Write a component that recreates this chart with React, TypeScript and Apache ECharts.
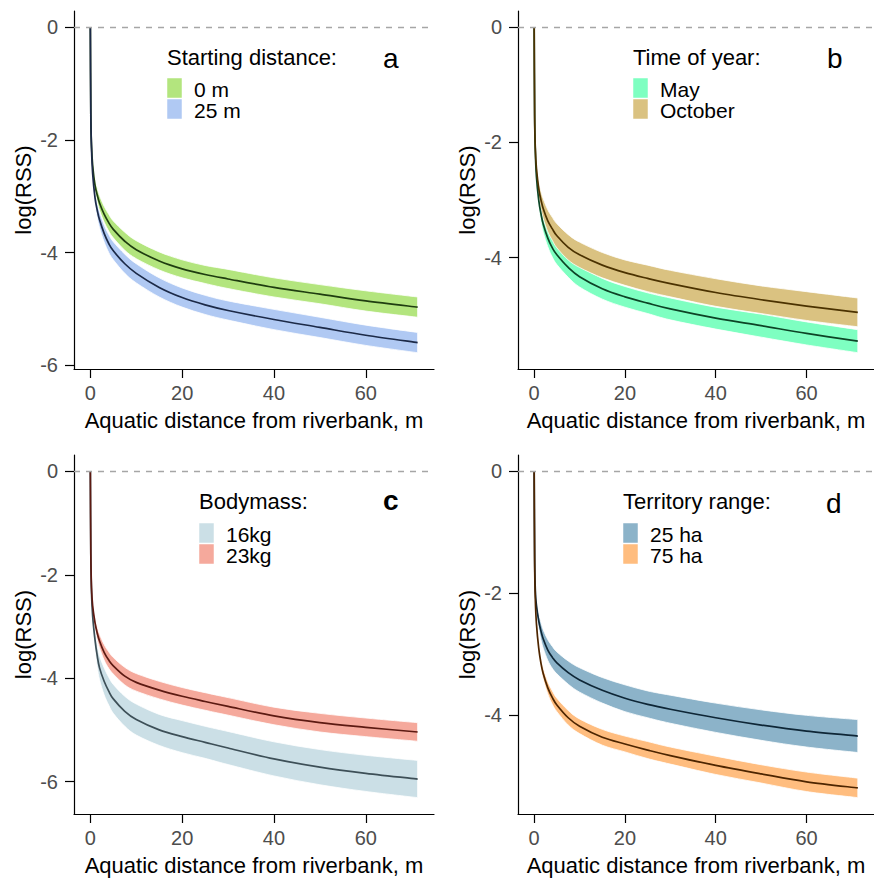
import React, { useEffect, useRef } from "react";
import * as echarts from "echarts";

// Aquatic distance from riverbank (m) at which values were read
const dist = [0, 0.1, 0.25, 0.5, 1, 1.5, 2, 3, 4, 5, 7.5, 10, 15, 20, 25, 30, 40, 50, 60, 71.3];

// Panel a: Starting distance
const a0Mid = [0, -1.55, -2.1, -2.45, -2.8, -2.98, -3.12, -3.32, -3.47, -3.59, -3.8, -3.95, -4.15, -4.29, -4.39, -4.47, -4.62, -4.74, -4.86, -4.97];
const a0Hi = [0, -1.53, -2.06, -2.38, -2.7, -2.86, -2.99, -3.18, -3.32, -3.44, -3.64, -3.79, -3.99, -4.13, -4.23, -4.3, -4.45, -4.57, -4.68, -4.79];
const a0Lo = [0, -1.57, -2.14, -2.52, -2.9, -3.1, -3.25, -3.46, -3.62, -3.74, -3.96, -4.11, -4.31, -4.45, -4.55, -4.64, -4.79, -4.91, -5.04, -5.15];
const a25Mid = [0, -1.55, -2.15, -2.6, -3.02, -3.25, -3.42, -3.66, -3.84, -3.97, -4.2, -4.37, -4.62, -4.8, -4.93, -5.03, -5.19, -5.33, -5.47, -5.6];
const a25Hi = [0, -1.53, -2.1, -2.52, -2.91, -3.12, -3.28, -3.51, -3.68, -3.81, -4.03, -4.2, -4.45, -4.63, -4.76, -4.86, -5.01, -5.15, -5.29, -5.42];
const a25Lo = [0, -1.57, -2.2, -2.68, -3.13, -3.38, -3.56, -3.81, -4.0, -4.13, -4.37, -4.54, -4.79, -4.97, -5.1, -5.2, -5.37, -5.51, -5.65, -5.78];

// Panel b: Time of year
const bMayMid = [0, -1.55, -2.15, -2.6, -3.0, -3.24, -3.42, -3.66, -3.83, -3.95, -4.17, -4.33, -4.54, -4.68, -4.79, -4.89, -5.05, -5.18, -5.315, -5.45];
const bMayHi = [0, -1.53, -2.1, -2.52, -2.89, -3.11, -3.28, -3.51, -3.67, -3.78, -4.0, -4.15, -4.36, -4.5, -4.61, -4.7, -4.86, -4.98, -5.115, -5.25];
const bMayLo = [0, -1.57, -2.2, -2.68, -3.11, -3.37, -3.56, -3.81, -3.99, -4.12, -4.34, -4.51, -4.72, -4.86, -4.97, -5.08, -5.24, -5.38, -5.515, -5.65];
const bOctMid = [0, -1.5, -2.1, -2.45, -2.8, -3.0, -3.15, -3.36, -3.5, -3.62, -3.82, -3.95, -4.13, -4.26, -4.36, -4.45, -4.605, -4.73, -4.84, -4.95];
const bOctHi = [0, -1.47, -2.04, -2.36, -2.67, -2.85, -2.98, -3.17, -3.3, -3.41, -3.6, -3.73, -3.91, -4.04, -4.13, -4.22, -4.365, -4.49, -4.59, -4.7];
const bOctLo = [0, -1.53, -2.16, -2.54, -2.93, -3.15, -3.32, -3.55, -3.7, -3.83, -4.04, -4.17, -4.35, -4.48, -4.59, -4.68, -4.845, -4.97, -5.09, -5.2];

// Panel c: Bodymass
const c16Mid = [0, -1.6, -2.35, -2.8, -3.25, -3.57, -3.8, -4.06, -4.25, -4.4, -4.64, -4.8, -5.0, -5.13, -5.24, -5.35, -5.56, -5.72, -5.84, -5.95];
const c16Hi = [0, -1.57, -2.28, -2.68, -3.08, -3.36, -3.57, -3.8, -3.98, -4.12, -4.35, -4.5, -4.7, -4.82, -4.93, -5.03, -5.23, -5.38, -5.49, -5.59];
const c16Lo = [0, -1.63, -2.42, -2.92, -3.42, -3.78, -4.03, -4.32, -4.52, -4.68, -4.93, -5.1, -5.3, -5.44, -5.55, -5.67, -5.89, -6.06, -6.19, -6.31];
const c23Mid = [0, -1.6, -2.25, -2.6, -2.92, -3.13, -3.28, -3.5, -3.65, -3.76, -3.96, -4.08, -4.23, -4.35, -4.45, -4.545, -4.73, -4.86, -4.95, -5.04];
const c23Hi = [0, -1.58, -2.21, -2.53, -2.82, -3.01, -3.15, -3.35, -3.49, -3.6, -3.79, -3.91, -4.06, -4.18, -4.28, -4.375, -4.56, -4.68, -4.77, -4.86];
const c23Lo = [0, -1.62, -2.29, -2.67, -3.02, -3.25, -3.41, -3.65, -3.81, -3.92, -4.13, -4.25, -4.4, -4.52, -4.62, -4.715, -4.9, -5.04, -5.13, -5.22];

// Panel d: Territory range
const d25Mid = [0, -1.4, -1.95, -2.2, -2.45, -2.62, -2.75, -2.93, -3.05, -3.14, -3.3, -3.42, -3.59, -3.72, -3.82, -3.9, -4.04, -4.16, -4.26, -4.34];
const d25Hi = [0, -1.37, -1.89, -2.11, -2.33, -2.48, -2.6, -2.76, -2.87, -2.96, -3.11, -3.22, -3.38, -3.5, -3.6, -3.67, -3.8, -3.91, -4.0, -4.07];
const d25Lo = [0, -1.43, -2.01, -2.29, -2.57, -2.76, -2.9, -3.1, -3.23, -3.32, -3.49, -3.62, -3.8, -3.94, -4.04, -4.13, -4.28, -4.41, -4.52, -4.61];
const d75Mid = [0, -1.5, -2.1, -2.5, -2.9, -3.15, -3.32, -3.55, -3.71, -3.83, -4.04, -4.18, -4.36, -4.47, -4.57, -4.66, -4.82, -4.96, -5.09, -5.19];
const d75Hi = [0, -1.48, -2.07, -2.45, -2.83, -3.07, -3.23, -3.45, -3.6, -3.72, -3.92, -4.06, -4.23, -4.34, -4.43, -4.52, -4.67, -4.81, -4.93, -5.03];
const d75Lo = [0, -1.52, -2.13, -2.55, -2.97, -3.23, -3.41, -3.65, -3.82, -3.94, -4.16, -4.3, -4.49, -4.6, -4.71, -4.8, -4.97, -5.11, -5.25, -5.35];

const xTicks = [0, 20, 40, 60];
const yTicksLong = [0, -2, -4, -6];
const yTicksShort = [0, -2, -4];

const panelLetters = ["a", "b", "c", "d"];
const legendTitles = ["Starting distance:", "Time of year:", "Bodymass:", "Territory range:"];
const groupNames = [
  ["0 m", "25 m"],
  ["May", "October"],
  ["16kg", "23kg"],
  ["25 ha", "75 ha"],
];

const FONT = "Liberation Sans, Arial, Helvetica, sans-serif";

type Group = { name: string; mid: number[]; hi: number[]; lo: number[]; fill: string; line: string };

const panels: {
  grid: { left: number; top: number; width: number; height: number };
  yMin: number;
  yMax: number;
  yTicks: number[];
  groups: Group[];
  legend: { x: number; titleY: number; keyY: number; letterX: number; letterY: number; bold?: boolean };
}[] = [
  {
    grid: { left: 74, top: 11, width: 360, height: 358 },
    yMin: -6.069, yMax: 0.289, yTicks: yTicksLong,
    groups: [
      { name: groupNames[0][0], mid: a0Mid, hi: a0Hi, lo: a0Lo, fill: "#b3e57e", line: "#1f3d10" },
      { name: groupNames[0][1], mid: a25Mid, hi: a25Hi, lo: a25Lo, fill: "#b0c9f3", line: "#1c2a48" },
    ],
    legend: { x: 167, titleY: 57, keyY: 78, letterX: 383, letterY: 58 },
  },
  {
    grid: { left: 518, top: 11, width: 360, height: 358 },
    yMin: -5.933, yMax: 0.283, yTicks: yTicksShort,
    groups: [
      { name: groupNames[1][0], mid: bMayMid, hi: bMayHi, lo: bMayLo, fill: "#7effc1", line: "#0d4426" },
      { name: groupNames[1][1], mid: bOctMid, hi: bOctHi, lo: bOctLo, fill: "#dac281", line: "#4b3200" },
    ],
    legend: { x: 633, titleY: 57, keyY: 78, letterX: 827, letterY: 58 },
  },
  {
    grid: { left: 74, top: 455, width: 360, height: 359 },
    yMin: -6.626, yMax: 0.316, yTicks: yTicksLong,
    groups: [
      { name: groupNames[2][0], mid: c16Mid, hi: c16Hi, lo: c16Lo, fill: "#cbdfe6", line: "#3d4f57" },
      { name: groupNames[2][1], mid: c23Mid, hi: c23Hi, lo: c23Lo, fill: "#f5a99c", line: "#5c1a12" },
    ],
    legend: { x: 199, titleY: 501, keyY: 523, letterX: 383, letterY: 500, bold: true },
  },
  {
    grid: { left: 518, top: 455, width: 360, height: 359 },
    yMin: -5.618, yMax: 0.268, yTicks: yTicksShort,
    groups: [
      { name: groupNames[3][0], mid: d25Mid, hi: d25Hi, lo: d25Lo, fill: "#8cb3c9", line: "#0e2636" },
      { name: groupNames[3][1], mid: d75Mid, hi: d75Hi, lo: d75Lo, fill: "#ffbd7f", line: "#4d2500" },
    ],
    legend: { x: 623, titleY: 501, keyY: 523, letterX: 826, letterY: 503 },
  },
];

const X_MIN = -3.565;
const X_MAX = 74.865;

// Catmull-Rom -> cubic Bezier segments through already-projected pixel points
function crSegments(pts: number[][]): string {
  let s = "";
  for (let i = 0; i < pts.length - 1; i++) {
    const p0 = pts[i - 1] || pts[i];
    const p1 = pts[i];
    const p2 = pts[i + 1];
    const p3 = pts[i + 2] || pts[i + 1];
    const c1x = p1[0] + (p2[0] - p0[0]) / 6;
    const c1y = p1[1] + (p2[1] - p0[1]) / 6;
    const c2x = p2[0] - (p3[0] - p1[0]) / 6;
    const c2y = p2[1] - (p3[1] - p1[1]) / 6;
    s += ` C${c1x.toFixed(2)},${c1y.toFixed(2)} ${c2x.toFixed(2)},${c2y.toFixed(2)} ${p2[0].toFixed(2)},${p2[1].toFixed(2)}`;
  }
  return s;
}

function ribbonRender(fill: string) {
  return (params: any, api: any) => {
    if (params.dataIndexInside !== 0) return null;
    const n = params.dataInsideLength;
    const hi: number[][] = [];
    const lo: number[][] = [];
    for (let j = 0; j < n; j++) {
      hi.push(api.coord([api.value(0, j), api.value(2, j)]));
      lo.push(api.coord([api.value(0, j), api.value(1, j)]));
    }
    const loRev = lo.slice().reverse();
    const d =
      `M${hi[0][0].toFixed(2)},${hi[0][1].toFixed(2)}` +
      crSegments(hi) +
      ` L${loRev[0][0].toFixed(2)},${loRev[0][1].toFixed(2)}` +
      crSegments(loRev) +
      " Z";
    return {
      type: "path",
      shape: { pathData: d },
      style: { fill, stroke: "#ffffff", lineWidth: 0.8 },
    };
  };
}

function lineRender(color: string) {
  return (params: any, api: any) => {
    if (params.dataIndexInside !== 0) return null;
    const n = params.dataInsideLength;
    const pts: number[][] = [];
    for (let j = 0; j < n; j++) pts.push(api.coord([api.value(0, j), api.value(1, j)]));
    const d = `M${pts[0][0].toFixed(2)},${pts[0][1].toFixed(2)}` + crSegments(pts);
    return {
      type: "path",
      shape: { pathData: d },
      style: { fill: null, stroke: color, lineWidth: 1.7, lineJoin: "round" },
    };
  };
}

function buildOption() {
  const grid: any[] = [];
  const xAxis: any[] = [];
  const yAxis: any[] = [];
  const series: any[] = [];
  const graphic: any[] = [];

  panels.forEach((p, i) => {
    grid.push({ ...p.grid, containLabel: false });
    xAxis.push({
      type: "value",
      gridIndex: i,
      min: X_MIN,
      max: X_MAX,
      name: "Aquatic distance from riverbank, m",
      nameLocation: "middle",
      nameGap: 40,
      nameTextStyle: { fontSize: 22, color: "#000", fontFamily: FONT },
      axisLine: { show: true, onZero: false, lineStyle: { color: "#000", width: 1.2 } },
      axisTick: { show: true, length: 9, customValues: xTicks, lineStyle: { color: "#000", width: 1.2 } },
      axisLabel: { customValues: xTicks, color: "#4d4d4d", fontSize: 20, margin: 14, fontFamily: FONT },
      splitLine: { show: false },
    });
    yAxis.push({
      type: "value",
      gridIndex: i,
      min: p.yMin,
      max: p.yMax,
      name: "log(RSS)",
      nameLocation: "middle",
      nameGap: 40,
      nameTextStyle: { fontSize: 22, color: "#000", fontFamily: FONT },
      axisLine: { show: true, onZero: false, lineStyle: { color: "#000", width: 1.2 } },
      axisTick: { show: true, length: 9, customValues: p.yTicks, lineStyle: { color: "#000", width: 1.2 } },
      axisLabel: { customValues: p.yTicks, color: "#4d4d4d", fontSize: 20, margin: 16, fontFamily: FONT },
      splitLine: { show: false },
    });

    // confidence ribbons
    p.groups.forEach((g, gi) => {
      const s: any = {
        type: "custom",
        name: g.name,
        xAxisIndex: i,
        yAxisIndex: i,
        silent: true,
        z: 2,
        data: dist.map((d, k) => [d, g.lo[k], g.hi[k]]),
        encode: { x: 0, y: [1, 2] },
        itemStyle: { color: g.fill },
        renderItem: ribbonRender(g.fill),
      };
      if (gi === 0) {
        s.markLine = {
          silent: true,
          symbol: ["none", "none"],
          label: { show: false },
          lineStyle: { color: "#a6a6a6", type: [6, 6], width: 1.3 },
          data: [{ yAxis: 0 }],
        };
      }
      series.push(s);
    });
    // fitted lines
    p.groups.forEach((g) => {
      series.push({
        type: "custom",
        xAxisIndex: i,
        yAxisIndex: i,
        silent: true,
        z: 3,
        data: dist.map((d, k) => [d, g.mid[k]]),
        encode: { x: 0, y: 1 },
        renderItem: lineRender(g.line),
      });
    });

    // legend (title, keys, labels) and panel letter
    const L = p.legend;
    graphic.push({
      type: "text",
      x: L.x,
      y: L.titleY,
      style: { text: legendTitles[i], fill: "#000", fontSize: 22, fontFamily: FONT, align: "left", verticalAlign: "middle" },
    });
    p.groups.forEach((g, gi) => {
      graphic.push({
        type: "rect",
        shape: { x: L.x, y: L.keyY + gi * 21, width: 15, height: 20 },
        style: { fill: g.fill, stroke: "#ffffff", lineWidth: 0.5 },
      });
      graphic.push({
        type: "text",
        x: L.x + 27,
        y: L.keyY + gi * 21 + 11,
        style: { text: g.name, fill: "#000", fontSize: 21, lineHeight: 19, fontFamily: FONT, align: "left", verticalAlign: "middle" },
      });
    });
    graphic.push({
      type: "text",
      x: L.letterX,
      y: L.letterY,
      style: {
        text: panelLetters[i],
        fill: "#000",
        fontSize: 28,
        fontWeight: L.bold ? "bold" : "normal",
        fontFamily: FONT,
        align: "left",
        verticalAlign: "middle",
      },
    });
  });

  return {
    animation: false,
    backgroundColor: "#ffffff",
    textStyle: { fontFamily: FONT },
    grid,
    xAxis,
    yAxis,
    series,
    graphic,
  };
}

export default function App() {
  const ref = useRef<HTMLDivElement>(null);
  useEffect(() => {
    if (!ref.current) return;
    const chart = echarts.init(ref.current, undefined, { renderer: "svg" });
    chart.setOption(buildOption() as any);
    return () => chart.dispose();
  }, []);
  return (
    <div
      ref={ref}
      style={{ position: "fixed", left: 0, top: 0, width: 874, height: 881, background: "#fff" }}
    />
  );
}
